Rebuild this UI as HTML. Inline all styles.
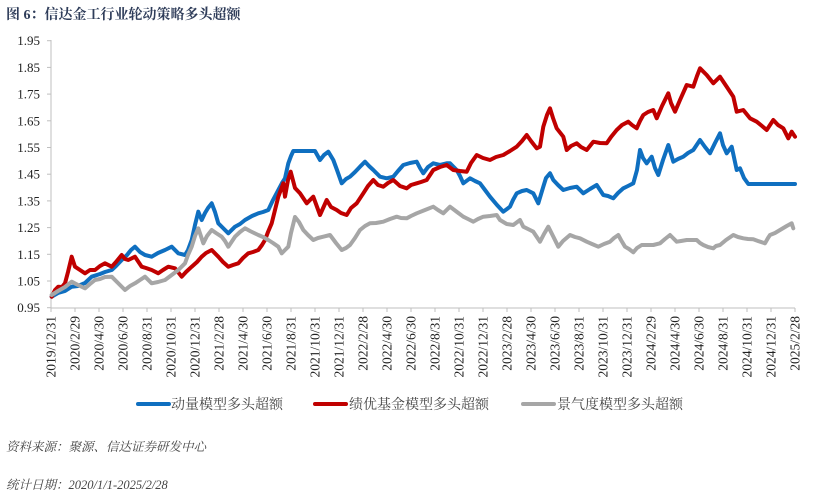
<!DOCTYPE html>
<html>
<head>
<meta charset="utf-8">
<style>
html,body{margin:0;padding:0;background:#fff;}
body{width:823px;height:500px;overflow:hidden;position:relative;}
svg{position:absolute;left:0;top:0;}
</style>
</head>
<body>
<svg width="823" height="500" viewBox="0 0 823 500" xmlns="http://www.w3.org/2000/svg">
<text x="6" y="19" font-family="'Liberation Serif','Noto Serif CJK SC',serif" font-size="14" font-weight="bold" fill="#2F3D5A">图 6：信达金工行业轮动策略多头超额</text>

<!-- axes -->
<g stroke="#BFBFBF" stroke-width="1" fill="none">
<line x1="51" y1="40" x2="51" y2="308"/>
<line x1="51" y1="308" x2="795" y2="308"/>
<line x1="47" y1="40.7" x2="51" y2="40.7"/>
<line x1="47" y1="67.4" x2="51" y2="67.4"/>
<line x1="47" y1="94.1" x2="51" y2="94.1"/>
<line x1="47" y1="120.8" x2="51" y2="120.8"/>
<line x1="47" y1="147.5" x2="51" y2="147.5"/>
<line x1="47" y1="174.2" x2="51" y2="174.2"/>
<line x1="47" y1="200.9" x2="51" y2="200.9"/>
<line x1="47" y1="227.6" x2="51" y2="227.6"/>
<line x1="47" y1="254.3" x2="51" y2="254.3"/>
<line x1="47" y1="281" x2="51" y2="281"/>
<line x1="47" y1="307.7" x2="51" y2="307.7"/>
</g>
<g stroke="#BFBFBF" stroke-width="1">
<path d="M51 308v4M75 308v4M99 308v4M123 308v4M147 308v4M171 308v4M195 308v4M219 308v4M243 308v4M267 308v4M291 308v4M315 308v4M339 308v4M363 308v4M387 308v4M411 308v4M435 308v4M459 308v4M483 308v4M507 308v4M531 308v4M555 308v4M579 308v4M603 308v4M627 308v4M651 308v4M675 308v4M699 308v4M723 308v4M747 308v4M771 308v4M795 308v4"/>
</g>

<g font-family="'Liberation Serif',serif" font-size="13" fill="#222" text-anchor="end">
<text x="40" y="45.2">1.95</text>
<text x="40" y="71.9">1.85</text>
<text x="40" y="98.6">1.75</text>
<text x="40" y="125.3">1.65</text>
<text x="40" y="152">1.55</text>
<text x="40" y="178.7">1.45</text>
<text x="40" y="205.4">1.35</text>
<text x="40" y="232.1">1.25</text>
<text x="40" y="258.8">1.15</text>
<text x="40" y="285.5">1.05</text>
<text x="40" y="312.2">0.95</text>
</g>

<g font-family="'Liberation Serif',serif" font-size="13.5" fill="#222" text-anchor="end">
<text transform="translate(55.7,316) rotate(-90)">2019/12/31</text>
<text transform="translate(79.7,316) rotate(-90)">2020/2/29</text>
<text transform="translate(103.7,316) rotate(-90)">2020/4/30</text>
<text transform="translate(127.7,316) rotate(-90)">2020/6/30</text>
<text transform="translate(151.7,316) rotate(-90)">2020/8/31</text>
<text transform="translate(175.7,316) rotate(-90)">2020/10/31</text>
<text transform="translate(199.7,316) rotate(-90)">2020/12/31</text>
<text transform="translate(223.7,316) rotate(-90)">2021/2/28</text>
<text transform="translate(247.7,316) rotate(-90)">2021/4/30</text>
<text transform="translate(271.7,316) rotate(-90)">2021/6/30</text>
<text transform="translate(295.7,316) rotate(-90)">2021/8/31</text>
<text transform="translate(319.7,316) rotate(-90)">2021/10/31</text>
<text transform="translate(343.7,316) rotate(-90)">2021/12/31</text>
<text transform="translate(367.7,316) rotate(-90)">2022/2/28</text>
<text transform="translate(391.7,316) rotate(-90)">2022/4/30</text>
<text transform="translate(415.7,316) rotate(-90)">2022/6/30</text>
<text transform="translate(439.7,316) rotate(-90)">2022/8/31</text>
<text transform="translate(463.7,316) rotate(-90)">2022/10/31</text>
<text transform="translate(487.7,316) rotate(-90)">2022/12/31</text>
<text transform="translate(511.7,316) rotate(-90)">2023/2/28</text>
<text transform="translate(535.7,316) rotate(-90)">2023/4/30</text>
<text transform="translate(559.7,316) rotate(-90)">2023/6/30</text>
<text transform="translate(583.7,316) rotate(-90)">2023/8/31</text>
<text transform="translate(607.7,316) rotate(-90)">2023/10/31</text>
<text transform="translate(631.7,316) rotate(-90)">2023/12/31</text>
<text transform="translate(655.7,316) rotate(-90)">2024/2/29</text>
<text transform="translate(679.7,316) rotate(-90)">2024/4/30</text>
<text transform="translate(703.7,316) rotate(-90)">2024/6/30</text>
<text transform="translate(727.7,316) rotate(-90)">2024/8/31</text>
<text transform="translate(751.7,316) rotate(-90)">2024/10/31</text>
<text transform="translate(775.7,316) rotate(-90)">2024/12/31</text>
<text transform="translate(799.7,316) rotate(-90)">2025/2/28</text>
</g>

<!-- series -->
<g fill="none" stroke-width="4" stroke-linejoin="round" stroke-linecap="round">
<polyline stroke="#0F6FC0" points="51.7,296.7 58,293 65,291 71.7,286.7 78,286 85,283 91.7,276.7 100,274 105,272 111.7,270 116,266 121.7,260 127,255 131,250 135,246.7 140,252 145,255 151.7,256.7 158,253 165,250 171.7,246.7 178.3,253.3 185,255 188,250 191.7,240 195,225 198.3,211.7 201.7,220 205,213 208,208 211.7,203.3 215,212 218.3,223.3 223,228 228.3,233.3 235,226.7 240,224 245,220 252,216 258.3,213.3 263,212 268.3,210 273,200 278.3,190 282,183 285,178.3 288.3,163.3 291,156 293.3,151 300,151 305,151 315,151 320,160 324,155 328.3,151.7 333.3,160 337,170 341.7,183.3 346,179 350,176.7 355,172 360,166.7 365,161.7 369,166 373.3,170 380,176.7 386.7,178.3 393.3,176.7 398,171 403.3,165 410,163 416.7,161.7 420,168 423.3,173.3 428,167 433.3,163.3 440,165 446.7,163.3 450,163.3 456.7,170 460,176 463.3,183.3 470,178.3 475,181 480,183.3 485,190 490,196.7 497,205 503.3,211.7 510,206.7 513,200 516.7,193.3 522,191 526.7,190 533.3,193.3 538.3,203.3 543.3,186.7 546,178 550,173.3 553.3,180 558,185 563.3,190 570,188 576.7,186.7 583.3,193.3 590,189 596.7,185 603.3,195 608,196 613.3,198.3 618,193 623.3,188.3 628,186 633.3,183.3 637,170 640,150 643,158 646.7,163.3 651.7,156.7 655,168 658.3,175 663,160 668.3,145 673.3,161.7 678,159 683.3,156.7 688,153 693.3,150 700,140 705,147 710,153.3 715,143 720,133.3 723,145 726.7,153.3 731.7,146.7 736.7,170 740,168.3 744,178 748.3,184 795,184"/>
<polyline stroke="#C00000" points="51.7,296.7 55,290 58.3,286.7 62,287 65,283.3 68,272 71.7,256.7 75,266.7 80,270 85,273.3 90,270 95,270 100,266 105,263.3 111.7,266.7 116,262 121.7,255 125,259 128.3,260 135,256.7 141.7,266.7 146,268 151.7,270 158.3,273.3 163,270 168.3,266.7 175,268.3 178,272 181.7,276.7 186,272 191.7,266.7 197,262 201.7,256.7 206,253 211.7,250 218.3,256.7 223,262 228.3,266.7 233,265 238.3,263.3 243,258 248.3,253.3 253,252 258.3,250 262,245 265,240 268,232 271.7,223.3 275,210 278.3,196.7 283.3,183.3 285,196.7 288,180 290.7,171.7 295,188 300,193.3 306.7,203.3 313.3,196.7 320,215 326.7,200 331,207 336.7,210 341,213 346.7,215 351,208 356.7,203.3 363.3,193.3 368,186 373.3,180 378,185 383.3,186.7 388,183 393.3,180 400,186 406.7,188.3 411,185 416.7,183.3 421,182 426.7,180 433.3,170 440,167 446.7,165 453.3,170 460,171 466.7,171.7 471,163 476.7,155 483,158 490,160 496,157 503.3,155 510,151 516.7,146.7 522,141 526.7,135 531,141 536.7,148.3 540,146.7 543.3,126.7 547,115 550,108.3 553,118 556.7,128.3 563.3,136.7 566.7,150 571,146 576.7,143.3 581,147 586.7,150 593.3,141.7 600,143 606.7,143.3 611,137 616.7,130 622,125 628.3,121.7 632,125 636.7,128.3 640,121 643.3,115 648,112 653.3,110 656.7,118.3 662,106 668.3,93.3 671,103 675,111.7 680,100 686.7,85 693.3,86.7 697,76 700,68.3 706.7,75 713.3,83.3 720,76.7 726.7,86.7 733.3,96.7 736.7,111.7 743.3,110 750,118.3 756.7,121.7 762,126 766.7,130 773.3,120 778,125 783.3,128.3 788.3,138.3 791.7,131.7 795,136.7"/>
<polyline stroke="#A6A6A6" points="51.7,295 58,291 65,287 71.7,281.7 78,285 85,288.3 90,284 95,280 100,279 105,277 111.7,276.7 118,283 125,290 130,286 135,283.3 140,280 145,276.7 151.7,283.3 158,282 165,280 171.7,275 178.3,270 185,263.3 188,255 191.7,246.7 195,236 198.3,228.3 203.3,243.3 207,236 211.7,230 216,233 221.7,236.7 225,241 228.3,246.7 235,236.7 240,232 245,228.3 250,231 258.3,235 263,237 268.3,240 273,243 278.3,246.7 281.7,253.3 285,250 288.3,246.7 291,233 295,217 299,222 303.3,230 308,235 313.3,240 318,238 323.3,236.7 330,235 336,243 341.7,250 346,248 350,245 355,238 360,230 365,226 370,223.3 376,223 383.3,221.7 390,219 396.7,216.7 401,218 406.7,218.3 411,216 416.7,213.3 425,210 433.3,206.7 438,210 443.3,213.3 450,206.7 457,212 463.3,216.7 468,219 473.3,221.7 478,219 483.3,216.7 490,216 496.7,215 500,220 506.7,224 513.3,225 520,220 523.3,226.7 530,230 533.3,231.7 540,241.7 544,234 548.3,226.7 553,236 558.3,246.7 563,241 570,235 575,237 580,238.3 586.7,241.7 592,244 598.3,246.7 604,244 610,241.7 614,238 618.3,235 621,240 625,246.7 629,249 633.3,252.3 637,248 641.7,245 647,245 653.3,245 660,243.3 665,239 670,235 673,238 676.7,241.7 681,241 686.7,240 691,240 696.7,240 700,243 703.3,245 708,247 713.3,248.3 716,246 720,245 726,240 733.3,235 738,237 743.3,238.3 748,239 753.3,239.3 758,241 765,243.3 768,238 770,235 775,233 780,230 786.7,226 791.7,223.3 793.3,228.3"/>
</g>

<!-- legend -->
<g stroke-width="4" stroke-linecap="round">
<line x1="138" y1="404" x2="169" y2="404" stroke="#0F6FC0"/>
<line x1="315" y1="404" x2="346" y2="404" stroke="#C00000"/>
<line x1="523" y1="404" x2="554" y2="404" stroke="#A6A6A6"/>
</g>
<g font-family="'Liberation Serif','Noto Serif CJK SC',serif" font-size="14" fill="#444">
<text x="171" y="409">动量模型多头超额</text>
<text x="349" y="409">绩优基金模型多头超额</text>
<text x="557" y="409">景气度模型多头超额</text>
</g>

<g font-family="'Liberation Serif','Noto Serif CJK SC',serif" font-size="12.5" font-style="italic" fill="#444">
<text x="6" y="451">资料来源：聚源、信达证券研发中心</text>
<text x="6" y="489">统计日期：2020/1/1-2025/2/28</text>
</g>
</svg>
</body>
</html>
